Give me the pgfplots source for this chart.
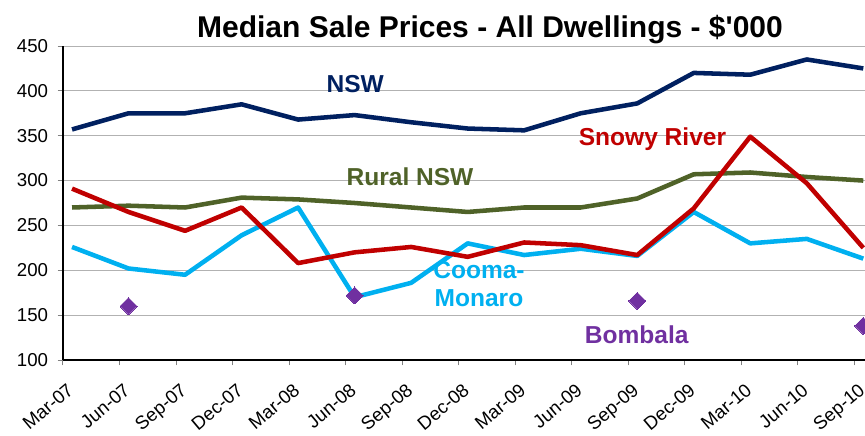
\documentclass[border=0pt]{standalone}
\usepackage{fontspec}
\setmainfont{Liberation Sans}
\usepackage{pgfplots}
\pgfplotsset{compat=1.18}
\definecolor{nsw}{HTML}{002060}
\definecolor{rural}{HTML}{4F6228}
\definecolor{snowy}{HTML}{C00000}
\definecolor{cooma}{HTML}{00B0F0}
\definecolor{bomb}{HTML}{7030A0}
\begin{document}
\begin{tikzpicture}
\useasboundingbox (-47.25pt,-57pt) rectangle (601.5pt,270pt);
\begin{axis}[
  at={(0,0)}, anchor=south west,
  scale only axis, width=601.5pt, height=235.5pt,
  xmin=-0.16, xmax=14.03, ymin=100, ymax=450,
  clip=false,
  axis lines=left, axis line style={-, black, line width=0.9pt},
  ytick={100,150,200,250,300,350,400,450},
  ymajorgrids, grid style={gray!60, line width=0.75pt},
  xtick={-0.16,0.84,1.84,2.84,3.84,4.84,5.84,6.84,7.84,8.84,9.84,10.84,11.84,12.84,13.84},
  xticklabels={Mar-07,Jun-07,Sep-07,Dec-07,Mar-08,Jun-08,Sep-08,Dec-08,Mar-09,Jun-09,Sep-09,Dec-09,Mar-10,Jun-10,Sep-10},
  tick align=outside, major tick length=4pt,
  x tick style={gray, line width=0.75pt},
  y tick style={gray, line width=0.75pt},
  /pgf/number format/assume math mode=true,
  yticklabel style={font=\fontsize{14}{16}\selectfont, inner sep=0pt, xshift=-7pt},
  xticklabel style={font=\fontsize{14}{16}\selectfont, inner sep=0pt, xshift=2.5pt, yshift=-12.5pt, rotate=40, anchor=north east},
  every axis plot/.append style={line width=3.4pt, line join=round},
]
\addplot[only marks, mark=square*, mark size=4.5pt, mark options={rotate=45, fill=bomb, draw=bomb, line width=0pt}]
  coordinates {(1,160) (5,172) (10,166) (14,138)};
\addplot[cooma, no markers] coordinates {
(0,226) (1,202) (2,195) (3,239) (4,270) (5,170) (6,186) (7,230) (8,217) (9,224) (10,216) (11,265) (12,230) (13,235) (14,213)};
\addplot[rural, no markers] coordinates {
(0,270) (1,272) (2,270) (3,281) (4,279) (5,275) (6,270) (7,265) (8,270) (9,270) (10,280) (11,307) (12,309) (13,304) (14,300)};
\addplot[snowy, no markers] coordinates {
(0,291) (1,265) (2,244) (3,270) (4,208) (5,220) (6,226) (7,215) (8,231) (9,228) (10,217) (11,269) (12,349) (13,297) (14,225)};
\addplot[nsw, no markers] coordinates {
(0,357) (1,375) (2,375) (3,385) (4,368) (5,373) (6,365) (7,358) (8,356) (9,375) (10,386) (11,420) (12,418) (13,435) (14,425)};
\begin{scope}[every node/.style={font=\fontsize{18.4}{22}\selectfont\bfseries, anchor=base, inner sep=0pt}]
\node[text=nsw] at (axis cs:5.01,398.7) {NSW};
\node[text=rural] at (axis cs:5.98,295) {Rural NSW};
\node[text=snowy] at (axis cs:10.27,339.6) {Snowy River};
\node[text=cooma] at (axis cs:7.2,191.4) {Cooma-};
\node[text=cooma] at (axis cs:7.2,159.4) {Monaro};
\node[text=bomb] at (axis cs:9.99,118.6) {Bombala};
\end{scope}
\end{axis}
\node[font=\fontsize{22.5}{27}\selectfont\bfseries, anchor=base, inner sep=0pt] at (320.25pt,241.9pt) {Median Sale Prices - All Dwellings - \$\textquotesingle 000};
\end{tikzpicture}
\end{document}
